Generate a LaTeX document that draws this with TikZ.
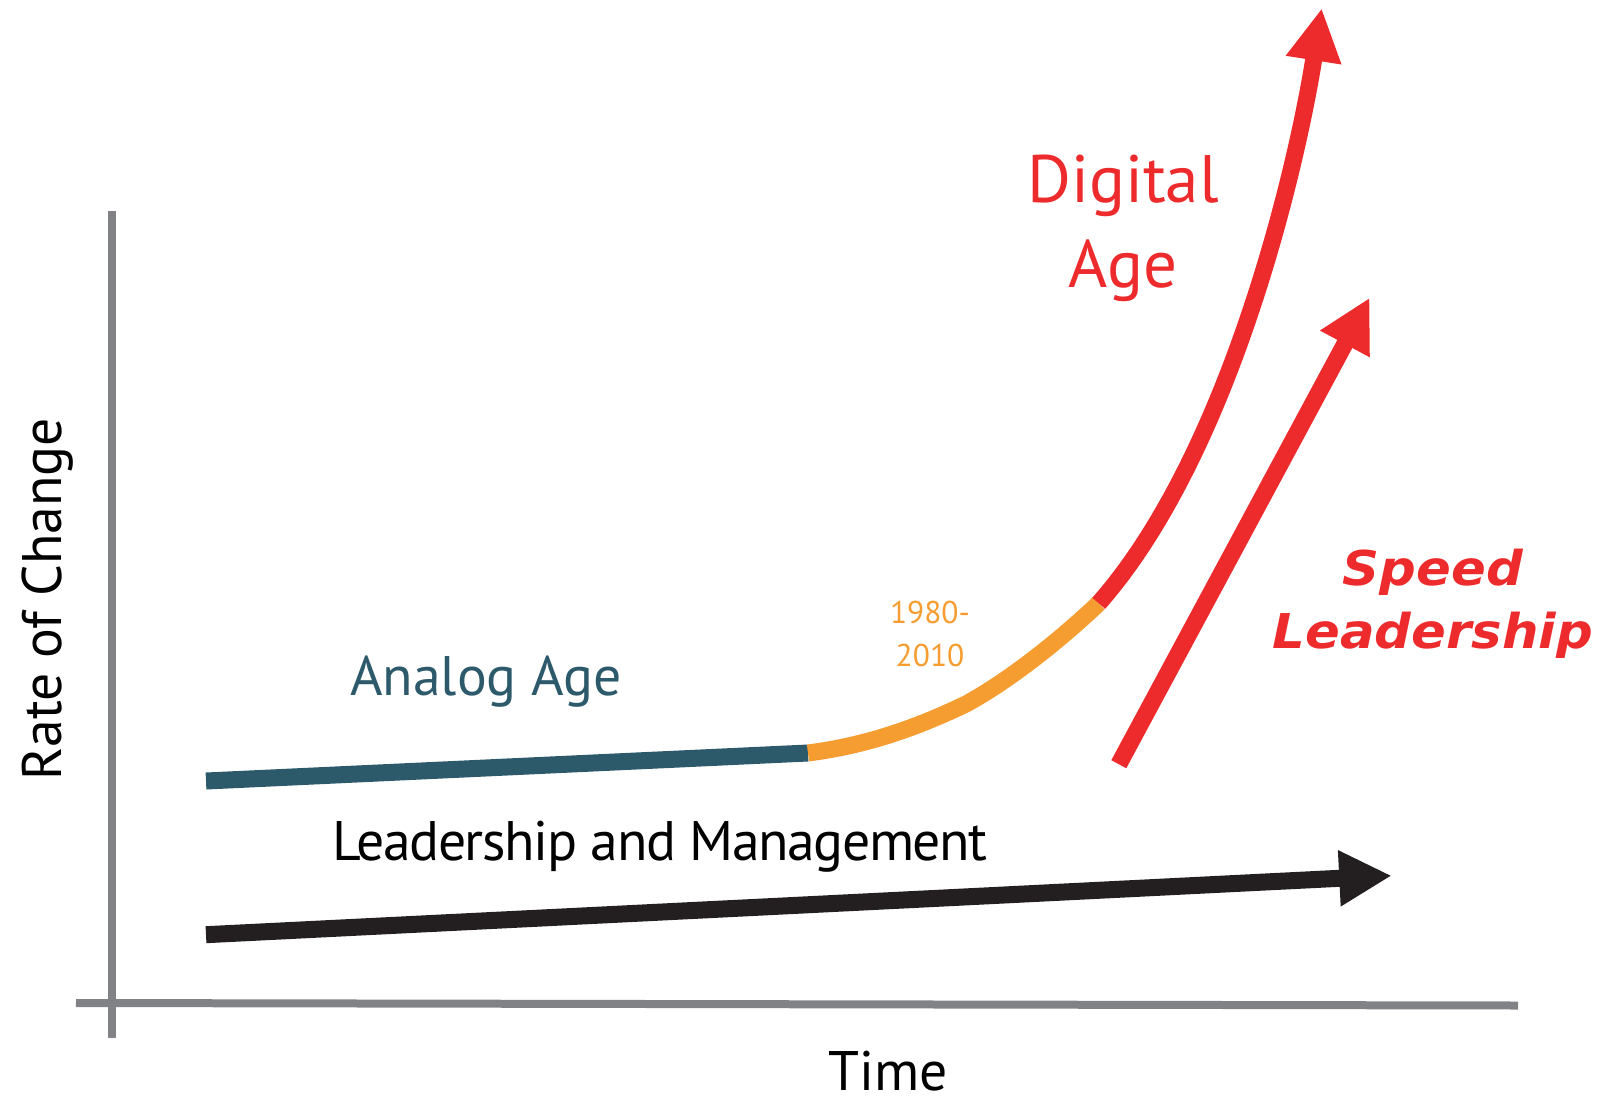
\documentclass[tikz,border=0pt]{standalone}
\usepackage{fontspec}
\setmainfont{PT Sans}
\newfontfamily\speedfont[FakeStretch=1.07]{DejaVu Sans}
\usetikzlibrary{arrows.meta}
\definecolor{axisgray}{HTML}{808285}
\definecolor{analogblue}{HTML}{2D5A6B}
\definecolor{eraorange}{HTML}{F59D30}
\definecolor{digitalred}{HTML}{EE2B2C}
\definecolor{mgmtblack}{HTML}{231F20}

\begin{document}
\begin{tikzpicture}[x=0.02cm,y=-0.02cm,
  axis/.style={axisgray,line width=0.16cm},
  trend/.style={line width=0.34cm},
  bigtip/.style={-{Triangle[length=1.05cm,width=1.05cm]}},
  axistext/.style={anchor=base,inner sep=0pt,font=\fontsize{31.7}{38}\selectfont}]
\useasboundingbox (0,0) rectangle (1610,1096);

% Draw the axes
\draw[axis] (111.5,211) -- (111.5,1038);
\draw[axis] (76,1003) -- (1518,1005.5);

% Analog age line
\draw[trend,analogblue] (206,781) -- (808,753);

% Transition years
\draw[trend,eraorange] (808,753) .. controls (870,745) and (920,726) .. (966,704)
  .. controls (1010,680) and (1060,640) .. (1098.7,603.3);

% Digital age curve
\draw[trend,digitalred,bigtip] (1098.7,603.3) .. controls (1232,452) and (1298,160) .. (1321.7,8.3);

% Speed leadership arrow
\draw[trend,digitalred,bigtip] (1118.8,764.2) -- (1369.7,297.7);

% Leadership and management arrow
\draw[trend,mgmtblack,bigtip] (206,934.7) -- (1391.7,875.7);

% Labels
\node[axistext,analogblue] (analog) at (486,695.7) {Analog Age};
\node[axistext] (mgmt) at (660,860) {\addfontfeatures{LetterSpace=-2.5}Leadership and Management};
\node[axistext] (time) at (888,1090.5) {Time};
\node[axistext,rotate=90] (rate) at (61,599) {Rate of Change};
\node[digitalred,anchor=base,align=center,font=\fontsize{38.2}{48.1}\selectfont]
  (digital) at (1123,287.3) {Digital\\Age};
\node[eraorange,anchor=base,align=center,font=\fontsize{17.9}{24.3}\selectfont]
  (years) at (930,666) {1980-\\2010};
\node[digitalred,anchor=base,align=center,
  font=\speedfont\bfseries\itshape\fontsize{27.3}{35.8}\selectfont]
  (speed) at (1433,648.7) {Speed\\Leadership};
\end{tikzpicture}
\end{document}
